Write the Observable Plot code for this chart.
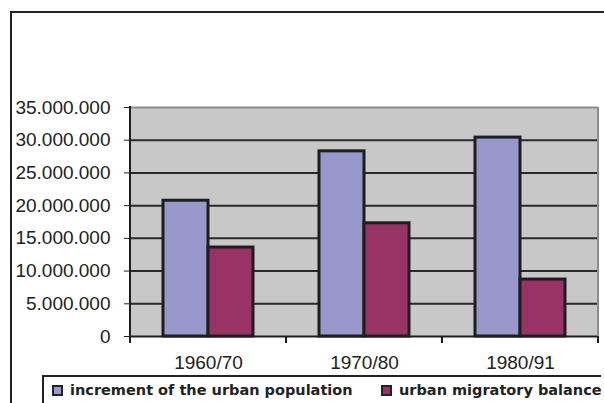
<!DOCTYPE html>
<html>
<head>
<meta charset="utf-8">
<script src="https://cdn.jsdelivr.net/npm/d3@7"></script>
<script src="https://cdn.jsdelivr.net/npm/@observablehq/plot@0.6"></script>
<style>
  html, body { margin: 0; padding: 0; background: #fff; }
  #wrap { position: relative; width: 604px; height: 403px; overflow: hidden; }
  #outer { position: absolute; left: 10px; top: 11px; width: 600px; height: 400px;
           border-left: 2px solid #222; border-top: 2px solid #222; }
  #legendbox { position: absolute; left: 42px; top: 375px; width: 557px; height: 40px;
           border-left: 2px solid #222; border-top: 2px solid #222; }
  #chart { position: absolute; left: 0; top: 0; }
  .item { position: absolute; top: 382px; display: flex; align-items: center;
          font-family: "DejaVu Sans", Verdana, sans-serif; font-weight: bold; font-size: 14.5px; color: #222; }
  .sw { width: 7px; height: 7px; border: 2px solid #222; margin-right: 7px; }
</style>
</head>
<body>
<div id="wrap">
  <div id="outer"></div>
  <div id="chart"></div>
  <div id="legendbox"></div>
</div>
<script>
const categories = ["1960/70", "1970/80", "1980/91"];
const seriesNames = ["increment of the urban population", "urban migratory balance"];
const increment = [20750000, 28300000, 30400000];
const migratory = [13600000, 17300000, 8700000];
const yTicks = [0, 5000000, 10000000, 15000000, 20000000, 25000000, 30000000, 35000000];
const seriesColors = ["#9898CC", "#993366"];

const data = [];
categories.forEach((c, i) => {
  data.push({cat: c, series: seriesNames[0], value: increment[i]});
  data.push({cat: c, series: seriesNames[1], value: migratory[i]});
});

const fmt = d => d3.format(",")(d).replace(/,/g, ".");

const chart = Plot.plot({
  width: 604,
  height: 403,
  marginLeft: 130,
  marginRight: 6,
  marginTop: 107,
  marginBottom: 67,
  style: {fontFamily: "'Liberation Sans', Arial, sans-serif", fontSize: "19px", color: "#222", background: "transparent"},
  fx: {domain: categories, padding: 0, label: null, tickSize: 0, tickPadding: 19},
  x: {domain: seriesNames, axis: null, paddingInner: 0, paddingOuter: 0.733},
  y: {domain: [0, 35000000], ticks: yTicks, tickFormat: fmt, tickSize: 6, tickPadding: 14, label: null},
  color: {domain: seriesNames, range: seriesColors},
  marks: [
    Plot.frame({fill: "#C8C8C8", stroke: "#C8C8C8", strokeWidth: 1}),
    Plot.ruleY(yTicks.filter(d => d > 0 && d < 35000000), {stroke: "#2a2a2a", strokeWidth: 2}),
    Plot.ruleY([35000000], {stroke: "#8c8c8c", strokeWidth: 2}),
    Plot.barY(data, {fx: "cat", x: "series", y: "value", fill: "series", stroke: "#1e1e1e", strokeWidth: 3}),
    Plot.ruleY([0], {stroke: "#1e1e1e", strokeWidth: 2})
  ]
});

// axis line and boundary ticks from the library's own scales
const fx = chart.scale("fx");
const y = chart.scale("y");
const bw = fx.bandwidth;
const svg = d3.select(chart);
const g = svg.append("g").attr("stroke", "#1e1e1e").attr("stroke-width", 2);
const x0 = fx.apply(categories[0]);
const xEnd = fx.apply(categories[categories.length - 1]) + bw;
// right edge of plot area
svg.append("line").attr("x1", xEnd).attr("x2", xEnd)
  .attr("y1", y.apply(35000000)).attr("y2", y.apply(0))
  .attr("stroke", "#8c8c8c").attr("stroke-width", 2);
g.append("line").attr("x1", x0).attr("x2", x0)
  .attr("y1", y.apply(35000000) - 1).attr("y2", y.apply(0) + 6);
const bounds = categories.map(c => fx.apply(c)).concat([xEnd]);
bounds.forEach(b => {
  g.append("line").attr("x1", b).attr("x2", b)
    .attr("y1", y.apply(0)).attr("y2", y.apply(0) + 7);
});

document.getElementById("chart").appendChild(chart);

// legend
const wrap = document.getElementById("wrap");
const legendLeft = [52, 381];
seriesNames.forEach((s, i) => {
  const it = document.createElement("div");
  it.className = "item";
  it.style.left = legendLeft[i] + "px";
  const sw = document.createElement("div");
  sw.className = "sw";
  sw.style.background = seriesColors[i];
  const t = document.createElement("span");
  t.textContent = s;
  it.appendChild(sw);
  it.appendChild(t);
  wrap.appendChild(it);
});
</script>
</body>
</html>
